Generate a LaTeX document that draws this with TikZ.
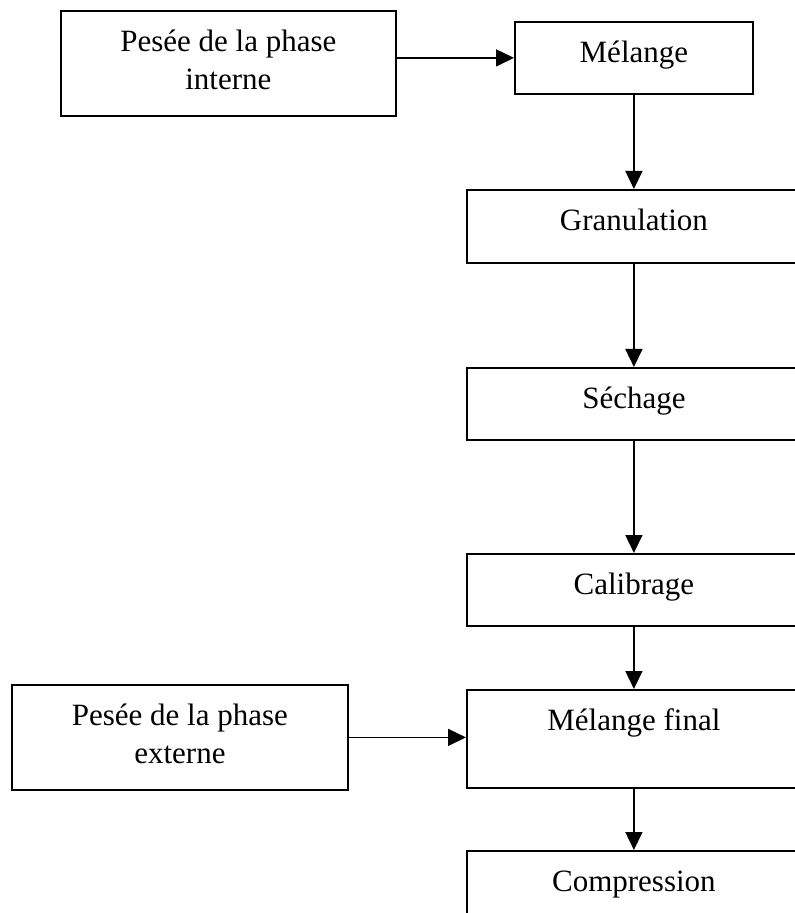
\documentclass[tikz,border=0pt]{standalone}
\usepackage{fontspec}
\setmainfont{Liberation Serif}
\usetikzlibrary{arrows.meta}
\tikzstyle{proc} = [draw=black, line width=0.9pt, inner sep=0pt, text height=20.5pt, align=center, anchor=north west, font=\fontsize{15.5}{19}\selectfont]
\tikzstyle{proctwo} = [proc, text height=39.5pt, text depth=13pt]
\tikzstyle{flow} = [line width=0.8pt, -{Triangle[length=9pt, width=8.5pt]}]

\begin{document}
\begin{tikzpicture}[x=0.5pt, y=-0.5pt]
\useasboundingbox (0,0) rectangle (795,913);
\clip (0,0) rectangle (795,913);

% Define nodes
\node[proctwo, minimum width=167.5pt]                 (interne) at (60,10)   {Pesée de la phase\\interne};
\node[proc, minimum width=119pt,   text depth=15.5pt] (melange) at (514,21)  {Mélange};
\node[proc, minimum width=167pt,   text depth=16pt]   (gran)    at (466,189) {Granulation};
\node[proc, minimum width=167pt,   text depth=15.5pt] (sech)    at (466,367) {Séchage};
\node[proc, minimum width=167pt,   text depth=15.5pt] (calib)   at (466,553) {Calibrage};
\node[proc, minimum width=167pt,   text depth=28.5pt] (final)   at (466,689) {Mélange final};
\node[proctwo, minimum width=168pt]                   (externe) at (11,684)  {Pesée de la phase\\externe};
\node[proc, minimum width=167pt,   text depth=20pt]   (compr)   at (466,850) {Compression};

% Edges
\draw[flow] (interne.east |- melange) -- (melange.west);
\draw[flow] (melange) -- (gran);
\draw[flow] (gran) -- (sech);
\draw[flow] (sech) -- (calib);
\draw[flow] (calib) -- (final);
\draw[flow] (externe) -- (externe -| final.west);
\draw[flow] (final) -- (compr);
\end{tikzpicture}
\end{document}
